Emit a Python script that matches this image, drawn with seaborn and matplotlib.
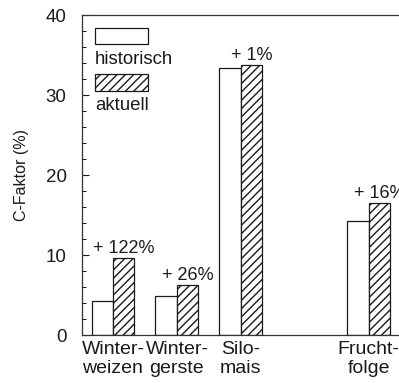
import matplotlib
matplotlib.use("Agg")
import matplotlib.pyplot as plt
import seaborn as sns
import pandas as pd
from matplotlib.patches import Rectangle

categories = ["Winter-\nweizen", "Winter-\ngerste", "Silo-\nmais", " ", "Frucht-\nfolge"]
data_categories = ["Winter-\nweizen", "Winter-\ngerste", "Silo-\nmais", "Frucht-\nfolge"]
historisch = [4.3, 4.9, 33.4, 14.3]
aktuell = [9.6, 6.25, 33.75, 16.5]
change_labels = ["+ 122%", "+ 26%", "+ 1%", "+ 16%"]
series = ["historisch", "aktuell"]
yticks = [0, 10, 20, 30, 40]

df = pd.DataFrame({
    "Kultur": data_categories * 2,
    "Zeit": [series[0]] * len(data_categories) + [series[1]] * len(data_categories),
    "C": historisch + aktuell,
})

sns.set_theme(style="white")
plt.rcParams["font.family"] = ["Liberation Sans", "DejaVu Sans"]
plt.rcParams["hatch.linewidth"] = 1.0
plt.rcParams["hatch.color"] = "#222222"

fig = plt.figure(figsize=(3.99, 3.83), dpi=100)
ax = fig.add_axes([0.2055, 0.1253, 0.815, 0.8355])

sns.barplot(data=df, x="Kultur", y="C", hue="Zeit", order=categories,
            hue_order=series, width=0.67, gap=0, palette=["white", "white"],
            edgecolor="#1a1a1a", linewidth=0.9, legend=False, ax=ax, errorbar=None)

# hatch the "aktuell" bars
for cont, name in zip(ax.containers, series):
    for bar in cont:
        bar.set_facecolor("white")
        if name == "aktuell":
            bar.set_hatch("////")

# annotations above aktuell bars
akt_cont = ax.containers[1]
for bar, lab in zip(akt_cont, change_labels):
    ax.annotate(lab, (bar.get_x() + bar.get_width() / 2, bar.get_height()),
                xytext=(0, 3.8), textcoords="offset points",
                ha="center", va="baseline", fontsize=13, color="#1a1a1a",
                annotation_clip=False)

ax.set_ylim(0, 40)
ax.set_xlim(-0.484, 4.6)
ax.set_yticks(yticks)
ax.set_yticks(range(0, 41, 2), minor=True)
ax.tick_params(axis="y", which="major", direction="in", length=5, width=0.8,
               pad=11, labelsize=13.5, colors="#1a1a1a", left=True)
ax.tick_params(axis="y", which="minor", direction="in", length=3, width=0.7,
               left=True, colors="#1a1a1a")
ax.tick_params(axis="x", length=0, pad=4, labelsize=14, colors="#1a1a1a")
for lab in ax.get_xticklabels():
    lab.set_linespacing(1.2)
ax.set_xlabel("")
ax.set_ylabel("C-Faktor (%)", fontsize=11.5, color="#1a1a1a", labelpad=12)

for side in ["left", "bottom", "top"]:
    ax.spines[side].set_visible(True)
    ax.spines[side].set_color("#333333")
    ax.spines[side].set_linewidth(0.9)
ax.spines["right"].set_visible(False)

# legend drawn manually (handles above labels)
ax.add_patch(Rectangle((0.04, 0.909), 0.163, 0.051, transform=ax.transAxes,
                       facecolor="white", edgecolor="#1a1a1a", linewidth=0.9,
                       clip_on=False))
ax.text(0.04, 0.862, series[0], transform=ax.transAxes, ha="left", va="center",
        fontsize=13.4, color="#1a1a1a")
ax.add_patch(Rectangle((0.04, 0.763), 0.163, 0.053, transform=ax.transAxes,
                       facecolor="white", edgecolor="#1a1a1a", linewidth=0.9,
                       hatch="////", clip_on=False))
ax.text(0.04, 0.717, series[1], transform=ax.transAxes, ha="left", va="center",
        fontsize=13.4, color="#1a1a1a")

fig.savefig("out.png", dpi=100)
